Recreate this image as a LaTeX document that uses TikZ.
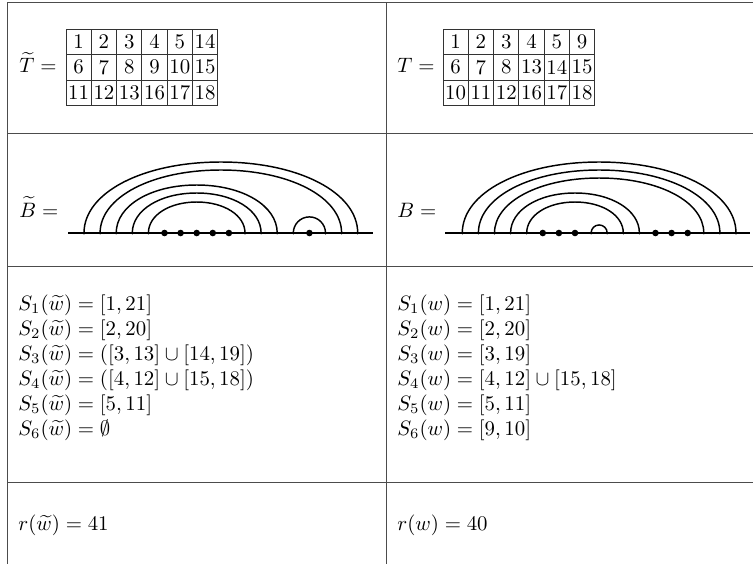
\documentclass[tikz,border=0pt]{standalone}
\begin{document}
\begin{tikzpicture}[x=0.48pt,y=0.48pt,
  rule/.style={draw=black!70,line width=0.45pt},
  cell/.style={draw=black!80,line width=0.4pt,minimum width=12.14pt,minimum height=12.24pt,inner sep=0pt,font=\normalsize},
  lbl/.style={anchor=base west,inner sep=0pt},
  arcline/.style={line width=0.7pt},
  axisline/.style={line width=0.8pt},
  smalldot/.style={fill=black},
  bigdot/.style={fill=black}]
\useasboundingbox (0,0) rectangle (753,-564);
% table rules
\draw[rule] (7,-2) -- (753,-2);
\draw[rule] (7,-133) -- (753,-133);
\draw[rule] (7,-266) -- (753,-266);
\draw[rule] (7,-482) -- (753,-482);
\draw[rule] (7,-2) -- (7,-564);
\draw[rule] (386,-2) -- (386,-564);
% row 1: tableaux
\node[lbl] (Ttl) at (19,-72.6) {$\widetilde{T} =$};
\node[lbl] (Tl) at (397,-72.6) {$T =$};
\foreach \v [count=\i from 0] in {1,2,3,4,5,14,6,7,8,9,10,15,11,12,13,16,17,18} {
  \pgfmathtruncatemacro\c{mod(\i,6)}
  \pgfmathtruncatemacro\r{div(\i,6)}
  \node[cell] (TA\i) at ({66+12.65+\c*25.3},{-(29+12.75+\r*25.5)}) {\v};
}
\foreach \v [count=\i from 0] in {1,2,3,4,5,9,6,7,8,13,14,15,10,11,12,16,17,18} {
  \pgfmathtruncatemacro\c{mod(\i,6)}
  \pgfmathtruncatemacro\r{div(\i,6)}
  \node[cell] (TB\i) at ({443+12.65+\c*25.3},{-(29+12.75+\r*25.5)}) {\v};
}
% row 2: arc diagrams
\node[lbl] (Btl) at (19,-217) {$\widetilde{B} =$};
\node[lbl] (Bl) at (397,-217) {$B =$};
\foreach \k in {1,...,18} {
  \coordinate (L\k) at ({84+(\k-1)*16.1},-233);
  \coordinate (R\k) at ({462.3+(\k-1)*16.1},-233);
}
\coordinate (Lstart) at (68,-233);
\coordinate (Lend) at (373,-233);
\coordinate (Rstart) at (445,-233);
\coordinate (Rend) at (750,-233);
\draw[axisline] (Lstart) -- (Lend);
\draw[axisline] (Rstart) -- (Rend);
\newcommand\hump[4]{%
  \draw[arcline] (#1) .. controls +(0,{0.57*#4}) and +({-0.57*#3},0) .. ++(#3,#4)
    .. controls +({0.57*#3},0) and +(0,{0.57*#4}) .. (#2);}
% left arcs
\hump{L1}{L18}{136.85}{71}
\hump{L2}{L17}{120.75}{63}
\hump{L3}{L13}{80.5}{48}
\hump{L4}{L12}{64.4}{40}
\hump{L5}{L11}{48.3}{31}
\draw[arcline] (L14) arc[start angle=180,end angle=0,radius=16.1];
% right arcs
\hump{R1}{R18}{136.85}{71}
\hump{R2}{R17}{120.75}{63}
\hump{R3}{R16}{104.65}{55}
\hump{R4}{R12}{64.4}{40}
\hump{R5}{R11}{48.3}{31}
\draw[arcline] (R9) arc[start angle=180,end angle=0,radius=8.05];
% dots
\foreach \k in {1,2,3,4,5,11,12,13,14,16,17,18} \fill[smalldot] (L\k) circle[radius=1.5];
\foreach \k in {6,7,8,9,10,15} \fill[bigdot] (L\k) circle[radius=3.3];
\foreach \k in {1,2,3,4,5,9,10,11,12,16,17,18} \fill[smalldot] (R\k) circle[radius=1.5];
\foreach \k in {6,7,8,13,14,15} \fill[bigdot] (R\k) circle[radius=3.3];
% row 3: sets
\node[lbl] (SA1) at (18,-310) {$S_1(\widetilde{w}) = [1,21]$};
\node[lbl] (SA2) at (18,-335) {$S_2(\widetilde{w}) = [2,20]$};
\node[lbl] (SA3) at (18,-360) {$S_3(\widetilde{w}) = ([3,13]\cup[14,19])$};
\node[lbl] (SA4) at (18,-385) {$S_4(\widetilde{w}) = ([4,12]\cup[15,18])$};
\node[lbl] (SA5) at (18,-410) {$S_5(\widetilde{w}) = [5,11]$};
\node[lbl] (SA6) at (18,-435) {$S_6(\widetilde{w}) = \emptyset$};
\node[lbl] (SB1) at (397,-310) {$S_1(w) = [1,21]$};
\node[lbl] (SB2) at (397,-335) {$S_2(w) = [2,20]$};
\node[lbl] (SB3) at (397,-360) {$S_3(w) = [3,19]$};
\node[lbl] (SB4) at (397,-385) {$S_4(w) = [4,12]\cup[15,18]$};
\node[lbl] (SB5) at (397,-410) {$S_5(w) = [5,11]$};
\node[lbl] (SB6) at (397,-435) {$S_6(w) = [9,10]$};
% row 4
\node[lbl] (RA) at (18,-530) {$r(\widetilde{w}) = 41$};
\node[lbl] (RB) at (397,-530) {$r(w) = 40$};
\end{tikzpicture}
\end{document}
